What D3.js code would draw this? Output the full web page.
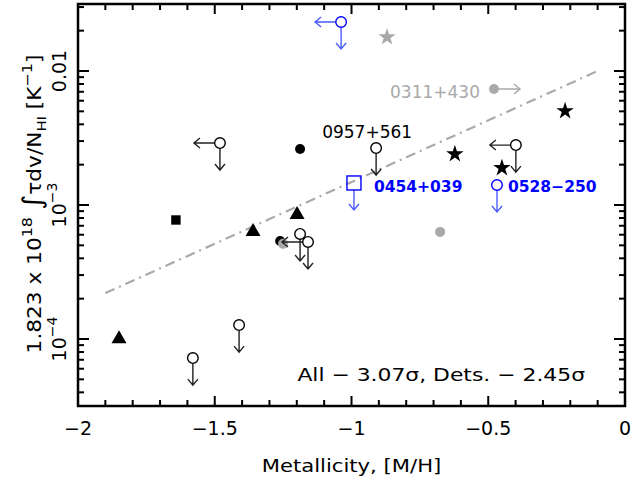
<!DOCTYPE html>
<html>
<head>
<meta charset="utf-8">
<script src="https://cdn.jsdelivr.net/npm/d3@7"></script>
<style>
  body { margin: 0; background: #fff; }
  text { font-family: "DejaVu Sans", sans-serif; }
</style>
</head>
<body>
<svg id="svg" width="631" height="485"></svg>
<script>
// colours
let black = "#000000"
let gray = "#a9a9a9"
let blue = "#0000ff"
let lightBlue = "#4a5cff"

// data: metallicity [M/H] and 1.823e18 * int(tau dv)/N_HI
let starsBlack = [[-0.219, 0.00503], [-0.622, 0.00240], [-0.450, 0.00189]];
let starsGray = [[-0.870, 0.0179]];
let triangles = [[-1.850, 1.03e-4], [-1.360, 6.5e-4], [-1.199, 8.7e-4]];
let squares = [[-1.642, 7.73e-4]];
let dotsBlack = [[-1.188, 2.62e-3], [-1.261, 5.38e-4]];
let dotsGray = [[-0.676, 6.3e-4], [-1.250, 5.13e-4]];
// lower limit in metallicity (arrow to the right)
let dotsGrayRight = [[-0.479, 7.34e-3, "0311+430"]];
// upper limits: [M/H], value, also a metallicity upper limit?, colour, name
let limitCircles = [
  [-1.038, 0.0232, true, "blue", ""],
  [-0.910, 0.00266, false, "black", "0957+561"],
  [-0.399, 0.00280, true, "black", ""],
  [-0.468, 0.00141, false, "blue", "0528\u2212250"],
  [-1.481, 0.00290, true, "black", ""],
  [-1.188, 6.08e-4, false, "black", ""],
  [-1.159, 5.30e-4, true, "black", ""],
  [-1.411, 1.27e-4, false, "black", ""],
  [-1.580, 7.2e-5, false, "black", ""]
];
let limitSquares = [[-0.991, 0.00146, "0454+039"]];
// fitted relation (dash-dot)
let fitLine = [[-1.9, 2.2e-4], [-0.1, 0.0100]];

let xTicks = [-2, -1.5, -1, -0.5, 0];
let xTickLabels = ["\u22122", "\u22121.5", "\u22121", "\u22120.5", "0"];
let yTicks = [1e-4, 1e-3, 1e-2];

let svg = d3.select("#svg"),
    mLeft = 78, mRight = 625, mTop = 4, mBottom = 406;

let x = d3.scaleLinear().domain([-2, 0]).range([mLeft, mRight]);
let y = d3.scaleLog().domain([Math.pow(10, -4.5), Math.pow(10, -1.5)]).range([mBottom, mTop]);

// fit line
svg.append("path")
  .datum(fitLine)
  .attr("d", d3.line().x(d => x(d[0])).y(d => y(d[1])))
  .attr("fill", "none")
  .attr("stroke", "#aaaaaa")
  .attr("stroke-width", 2.2)
  .attr("stroke-dasharray", "10,5,2,5");

// arrows
function arrow(x0, y0, dx, dy, color) {
  let len = Math.hypot(dx, dy), ux = dx / len, uy = dy / len;
  let x1 = x0 + dx, y1 = y0 + dy, h = 6, w = 5;
  svg.append("path")
    .attr("d", `M${x0},${y0}L${x1},${y1}M${x1 - ux * h - uy * w},${y1 - uy * h + ux * w}L${x1},${y1}L${x1 - ux * h + uy * w},${y1 - uy * h - ux * w}`)
    .attr("fill", "none")
    .attr("stroke", color)
    .attr("stroke-width", 1.4);
}

let colorOf = { black: black, blue: blue };
let arrowColorOf = { black: "#222", blue: lightBlue };

svg.selectAll(".dotb").data(dotsBlack).join("circle")
  .attr("cx", d => x(d[0])).attr("cy", d => y(d[1])).attr("r", 5).attr("fill", black);
svg.selectAll(".dotg").data(dotsGray.concat(dotsGrayRight)).join("circle")
  .attr("cx", d => x(d[0])).attr("cy", d => y(d[1])).attr("r", 5).attr("fill", gray);

limitCircles.forEach(d => {
  let cx = x(d[0]), cy = y(d[1]), r = 5.3;
  arrow(cx, cy + r, 0, 27 - r, arrowColorOf[d[3]]);
  if (d[2]) arrow(cx - r, cy, -(26 - r), 0, arrowColorOf[d[3]]);
  svg.append("circle").attr("cx", cx).attr("cy", cy).attr("r", r)
    .attr("fill", "#fff").attr("stroke", colorOf[d[3]]).attr("stroke-width", 1.4);
});

limitSquares.forEach(d => {
  let cx = x(d[0]), cy = y(d[1]), s = 7;
  arrow(cx, cy + s, 0, 27 - s, lightBlue);
  svg.append("rect").attr("x", cx - s).attr("y", cy - s).attr("width", 2 * s).attr("height", 2 * s)
    .attr("fill", "none").attr("stroke", blue).attr("stroke-width", 1.4);
});

dotsGrayRight.forEach(d => {
  arrow(x(d[0]) + 5, y(d[1]), 21, 0, gray);
});

let star = d3.symbol().type(d3.symbolStar).size(95);
svg.selectAll(".starb").data(starsBlack).join("path")
  .attr("transform", d => `translate(${x(d[0])},${y(d[1])})`).attr("d", star).attr("fill", black);
svg.selectAll(".starg").data(starsGray).join("path")
  .attr("transform", d => `translate(${x(d[0])},${y(d[1])})`).attr("d", star).attr("fill", gray);

svg.selectAll(".tri").data(triangles).join("path")
  .attr("transform", d => `translate(${x(d[0])},${y(d[1])})`)
  .attr("d", "M0,-7L7.5,6L-7.5,6Z").attr("fill", black);

svg.selectAll(".sq").data(squares).join("rect")
  .attr("x", d => x(d[0]) - 4.7).attr("y", d => y(d[1]) - 4.7)
  .attr("width", 9.4).attr("height", 9.4).attr("fill", black);

// source labels
function label(d, text, dx, dy, anchor, color, weight, size) {
  svg.append("text").attr("x", x(d[0]) + dx).attr("y", y(d[1]) + dy)
    .attr("text-anchor", anchor).attr("fill", color).attr("font-size", size)
    .attr("font-weight", weight).text(text);
}
label(dotsGrayRight[0], dotsGrayRight[0][2], -14, 9, "end", gray, "normal", 17);
label(limitCircles[1], limitCircles[1][4], -9, -10, "middle", black, "normal", 17);
label(limitCircles[3], limitCircles[3][4], 11, 7, "start", blue, "bold", 15.5);
label(limitSquares[0], limitSquares[0][2], 20, 9, "start", blue, "bold", 15.5);

// frame
svg.append("rect").attr("x", mLeft).attr("y", mTop).attr("width", mRight - mLeft).attr("height", mBottom - mTop)
  .attr("fill", "none").attr("stroke", black).attr("stroke-width", 2.5);

// ticks
let ticks = svg.append("g").attr("stroke", black).attr("stroke-width", 2);
d3.range(-2, 0.001, 0.1).forEach(v => {
  let major = Math.abs(v * 2 - Math.round(v * 2)) < 1e-6;
  let len = major ? 10 : 6;
  ticks.append("line").attr("x1", x(v)).attr("x2", x(v)).attr("y1", mBottom).attr("y2", mBottom - len);
  ticks.append("line").attr("x1", x(v)).attr("x2", x(v)).attr("y1", mTop).attr("y2", mTop + len);
});
[-5, -4, -3, -2].forEach(e => {
  d3.range(1, 10).forEach(k => {
    let v = k * Math.pow(10, e);
    if (v < y.domain()[0] || v > y.domain()[1]) return;
    let len = k === 1 ? 11 : 6;
    ticks.append("line").attr("x1", mLeft).attr("x2", mLeft + len).attr("y1", y(v)).attr("y2", y(v));
    ticks.append("line").attr("x1", mRight).attr("x2", mRight - len).attr("y1", y(v)).attr("y2", y(v));
  });
});

// x tick labels
svg.selectAll(".xl").data(xTicks).join("text")
  .attr("x", d => x(d)).attr("y", 435).attr("text-anchor", "middle")
  .attr("font-size", 19).text((d, i) => xTickLabels[i]);

// y tick labels (rotated)
yTicks.forEach(v => {
  let t = svg.append("text").attr("transform", `translate(66,${y(v)}) rotate(-90)`)
    .attr("text-anchor", "middle").attr("font-size", 19);
  if (v === 1e-2) {
    t.text("0.01");
  } else {
    t.append("tspan").text("10");
    t.append("tspan").attr("dy", -9).attr("font-size", 14).text("\u2212" + (-Math.round(Math.log10(v))));
  }
});

// axis titles (the original font is wider, so stretch horizontally)
svg.append("text").attr("transform", `translate(${(mLeft + mRight) / 2},472) scale(1.21,1)`)
  .attr("text-anchor", "middle").attr("font-size", 17.5).text("Metallicity, [M/H]");

let yl = svg.append("text").attr("transform", "translate(41,204) rotate(-90) scale(1.14,1)")
  .attr("text-anchor", "middle").attr("font-size", 19);
yl.append("tspan").text("1.823 x 10");
yl.append("tspan").attr("dy", -9).attr("font-size", 14).text("18");
yl.append("tspan").attr("dy", 9).text(" ");
yl.append("tspan").attr("font-size", 26).text("\u222B");
yl.append("tspan").text("\u03C4dv/N");
yl.append("tspan").attr("dy", 5).attr("font-size", 13).text("HI");
yl.append("tspan").attr("dy", -5).text(" [K");
yl.append("tspan").attr("dy", -9).attr("font-size", 14).text("\u22121");
yl.append("tspan").attr("dy", 9).text("]");

// significance note
svg.append("text").attr("transform", "translate(585,381) scale(1.215,1)")
  .attr("text-anchor", "end").attr("font-size", 18)
  .text("All \u2212 3.07\u03C3, Dets. \u2212 2.45\u03C3");
</script>
</body>
</html>
